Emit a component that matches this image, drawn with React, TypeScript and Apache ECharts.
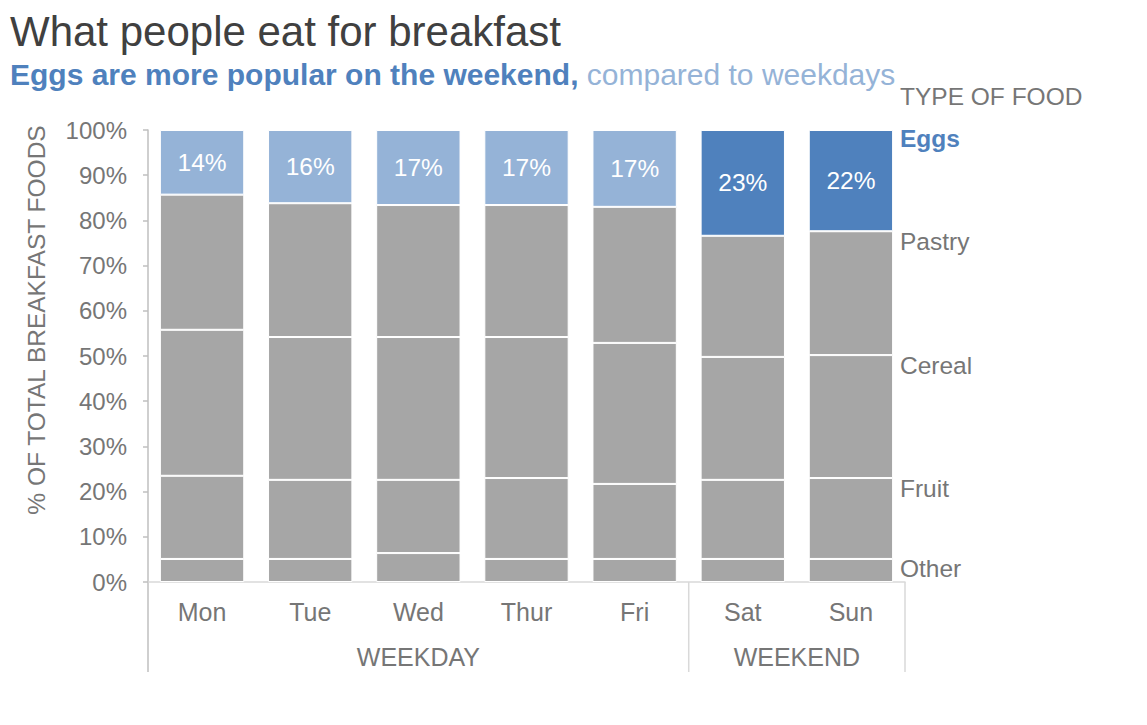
import React, { useEffect, useRef } from 'react';
import * as echarts from 'echarts';

const days = ['Mon', 'Tue', 'Wed', 'Thur', 'Fri', 'Sat', 'Sun'];
const groups = [
  { name: 'WEEKDAY', count: 5 },
  { name: 'WEEKEND', count: 2 },
];
const foodNames = ['Other', 'Fruit', 'Cereal', 'Pastry', 'Eggs'];
const other = [5.1, 5.1, 6.4, 5.1, 5.1, 5.1, 5.1];
const fruit = [18.4, 17.5, 16.2, 17.9, 16.6, 17.5, 17.9];
const cereal = [32.3, 31.6, 31.6, 31.2, 31.2, 27.2, 27.2];
const pastry = [29.9, 29.6, 29.2, 29.2, 30.1, 26.8, 27.4];
const eggs = [14.3, 16.2, 16.6, 16.6, 17.0, 23.4, 22.4];
const seriesValues = [other, fruit, cereal, pastry, eggs];

const FONT = '"Liberation Sans", Arial, Helvetica, sans-serif';
const GRAY_TEXT = '#767676';
const BAR_GRAY = '#a6a6a6';
const EGG_LIGHT = '#95b3d7';
const EGG_DARK = '#4f81bd';

export default function App() {
  const ref = useRef<HTMLDivElement>(null);

  useEffect(() => {
    document.body.style.margin = '0';
    const el = ref.current!;
    const chart = echarts.init(el, null, { renderer: 'svg' });

    const weekendStart = groups[0].count;

    const series = seriesValues.map((vals, si) => {
      const isEggs = si === seriesValues.length - 1;
      return {
        name: foodNames[si],
        type: 'bar',
        stack: 'total',
        barCategoryGap: '22%',
        data: vals.map((v, i) => ({
          value: v,
          itemStyle: {
            color: isEggs ? (i >= weekendStart ? EGG_DARK : EGG_LIGHT) : BAR_GRAY,
          },
        })),
        itemStyle: { borderColor: '#ffffff', borderWidth: 1 },
        label: isEggs
          ? {
              show: true,
              position: 'inside',
              color: '#ffffff',
              fontSize: 24.5,
              fontFamily: FONT,
              formatter: (p: any) => Math.round(p.value) + '%',
            }
          : { show: false },
        silent: true,
      };
    });

    const option: any = {
      animation: false,
      textStyle: { fontFamily: FONT },
      grid: { left: 148, right: 242, top: 130, bottom: 143, containLabel: false },
      xAxis: {
        type: 'category',
        data: days,
        axisLine: { show: true, lineStyle: { color: '#d9d9d9', width: 1.5 } },
        axisTick: { show: false },
        axisLabel: { color: GRAY_TEXT, fontSize: 25, margin: 17, fontFamily: FONT },
      },
      yAxis: {
        type: 'value',
        min: 0,
        max: 100,
        interval: 10,
        axisLine: { show: true, lineStyle: { color: '#bfbfbf', width: 1.5 } },
        axisTick: { show: true, length: 5, lineStyle: { color: '#bfbfbf', width: 1.5 } },
        splitLine: { show: false },
        axisLabel: {
          color: GRAY_TEXT,
          fontSize: 24,
          margin: 21,
          fontFamily: FONT,
          formatter: '{value}%',
        },
      },
      series,
    };

    chart.setOption(option);

    const px = (i: number) => chart.convertToPixel({ xAxisIndex: 0 }, i) as number;
    const py = (v: number) => chart.convertToPixel({ yAxisIndex: 0 }, v) as number;
    const step = px(1) - px(0);
    const axisY = py(0);
    const leftB = px(0) - step / 2;
    const rightB = px(days.length - 1) + step / 2;

    const graphics: any[] = [];
    // Title & subtitle
    graphics.push({
      type: 'text',
      x: 10,
      y: 31,
      style: {
        text: 'What people eat for breakfast',
        fill: '#404040',
        fontSize: 42,
        fontFamily: FONT,
        textVerticalAlign: 'middle',
        verticalAlign: 'middle',
      },
    });
    graphics.push({
      type: 'text',
      x: 10,
      y: 74,
      style: {
        text: '{a|Eggs are more popular on the weekend,}{b| compared to weekdays}',
        fontFamily: FONT,
        fontSize: 30,
        verticalAlign: 'middle',
        textVerticalAlign: 'middle',
        rich: {
          a: { fill: EGG_DARK, color: EGG_DARK, fontWeight: 'bold', fontSize: 30, fontFamily: FONT },
          b: { fill: EGG_LIGHT, color: EGG_LIGHT, fontSize: 30, fontFamily: FONT },
        },
      },
    });
    // Y axis name
    graphics.push({
      type: 'text',
      x: 36,
      y: 320,
      rotation: Math.PI / 2,
      style: {
        text: '% OF TOTAL BREAKFAST FOODS',
        fill: GRAY_TEXT,
        fontSize: 24.5,
        fontFamily: FONT,
        align: 'center',
        verticalAlign: 'middle',
        textAlign: 'center',
        textVerticalAlign: 'middle',
      },
    });
    // Legend header
    graphics.push({
      type: 'text',
      x: rightB - 5,
      y: 96,
      style: {
        text: 'TYPE OF FOOD',
        fill: GRAY_TEXT,
        fontSize: 24.5,
        fontFamily: FONT,
        verticalAlign: 'middle',
        textVerticalAlign: 'middle',
      },
    });
    // Right-side series labels at last category
    const last = days.length - 1;
    let cum = 0;
    seriesValues.forEach((vals, si) => {
      cum += vals[last];
      const isEggs = si === seriesValues.length - 1;
      graphics.push({
        type: 'text',
        x: rightB - 5,
        y: py(cum) + (isEggs ? 8 : 10),
        style: {
          text: foodNames[si],
          fill: isEggs ? EGG_DARK : GRAY_TEXT,
          fontWeight: isEggs ? 'bold' : 'normal',
          fontSize: 24.5,
          fontFamily: FONT,
          verticalAlign: 'middle',
          textVerticalAlign: 'middle',
        },
      });
    });
    // Group separators and labels
    const sepBottom = axisY + 90;
    let start = 0;
    const bounds = [leftB];
    groups.forEach((g) => {
      const end = start + g.count;
      const x0 = px(start) - step / 2;
      const x1 = px(end - 1) + step / 2;
      bounds.push(x1);
      graphics.push({
        type: 'text',
        x: (x0 + x1) / 2,
        y: axisY + 75,
        style: {
          text: g.name,
          fill: GRAY_TEXT,
          fontSize: 25,
          fontFamily: FONT,
          align: 'center',
          verticalAlign: 'middle',
          textAlign: 'center',
          textVerticalAlign: 'middle',
        },
      });
      start = end;
    });
    bounds.forEach((bx, bi) => {
      graphics.push({
        type: 'line',
        shape: { x1: bx, y1: axisY, x2: bx, y2: sepBottom },
        style: { stroke: bi === 0 ? '#bfbfbf' : '#d9d9d9', lineWidth: 1.5 },
        silent: true,
      });
    });

    chart.setOption({ graphic: graphics });

    return () => {
      chart.dispose();
    };
  }, []);

  return <div ref={ref} style={{ width: 1147, height: 725 }} />;
}
